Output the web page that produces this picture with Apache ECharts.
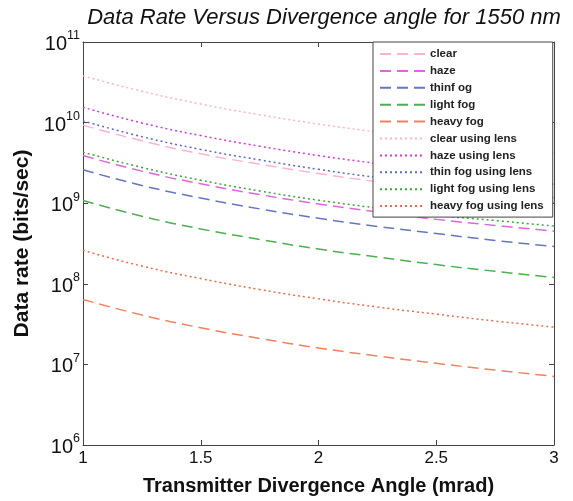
<!DOCTYPE html>
<html><head><meta charset="utf-8">
<script src="https://cdn.jsdelivr.net/npm/echarts@6/dist/echarts.min.js"></script>
<style>html,body{margin:0;padding:0;background:#fff}#c{width:573px;height:501px}</style>
</head><body><div id="c"></div>
<script>
const angles = [1, 1.25, 1.5, 1.75, 2, 2.25, 2.5, 2.75, 3];
const xTicks = [1, 1.5, 2, 2.5, 3];
const seriesNames = ['clear','haze','thinf og','light fog','heavy fog','clear using lens','haze using lens','thin fog using lens','light fog using lens','heavy fog using lens'];
const clear        = [9.3e9, 5.95e9, 4.1e9, 3.05e9, 2.33e9, 1.84e9, 1.49e9, 1.23e9, 1.03e9];
const haze         = [3.9e9, 2.5e9, 1.74e9, 1.28e9, 9.8e8, 7.8e8, 6.3e8, 5.3e8, 4.5e8];
const thinFog      = [2.6e9, 1.66e9, 1.16e9, 8.5e8, 6.5e8, 5.15e8, 4.2e8, 3.45e8, 2.9e8];
const lightFog     = [1.08e9, 6.9e8, 4.8e8, 3.55e8, 2.7e8, 2.15e8, 1.73e8, 1.43e8, 1.2e8];
const heavyFog     = [6.4e7, 4.1e7, 2.85e7, 2.1e7, 1.6e7, 1.27e7, 1.03e7, 8.5e6, 7.1e6];
const clearLens    = [3.8e10, 2.45e10, 1.7e10, 1.25e10, 9.6e9, 7.6e9, 6.1e9, 5.0e9, 4.2e9];
const hazeLens     = [1.55e10, 9.9e9, 6.9e9, 5.1e9, 3.9e9, 3.1e9, 2.5e9, 2.05e9, 1.72e9];
const thinFogLens  = [1.05e10, 6.7e9, 4.65e9, 3.45e9, 2.63e9, 2.08e9, 1.68e9, 1.39e9, 1.17e9];
const lightFogLens = [4.3e9, 2.78e9, 1.93e9, 1.42e9, 1.09e9, 8.7e8, 7.1e8, 6.1e8, 5.2e8];
const heavyFogLens = [2.6e8, 1.66e8, 1.16e8, 8.5e7, 6.5e7, 5.15e7, 4.2e7, 3.45e7, 2.9e7];

const allData = [clear, haze, thinFog, lightFog, heavyFog, clearLens, hazeLens, thinFogLens, lightFogLens, heavyFogLens];
const colors = ['#ffb3cc','#e066e0','#6676c0','#4caf50','#f5805e','#ffb3cc','#e033e0','#5a6ad0','#3aa83a','#f06a4a'];
const dashed = [11, 6], dotted = [2, 3];

const series = allData.map((d, i) => ({
  name: seriesNames[i],
  type: 'line',
  smooth: true,
  showSymbol: false,
  symbol: 'none',
  data: d.map((v, j) => [angles[j], v]),
  lineStyle: { color: colors[i], width: 1.5, type: i < 5 ? dashed : dotted },
  itemStyle: { color: colors[i] },
  z: 2
}));

const axisCol = '#444';
const chart = echarts.init(document.getElementById('c'), null, {renderer: 'canvas'});
chart.setOption({
  animation: false,
  backgroundColor: '#fff',
  title: {
    text: 'Data Rate Versus Divergence angle for 1550 nm',
    left: 319, textAlign: 'center', top: 2,
    textStyle: { fontFamily: 'Liberation Sans', fontStyle: 'italic', fontWeight: 'normal', fontSize: 22, color: '#111' }
  },
  grid: { left: 83, right: 19, top: 42, bottom: 50, containLabel: false },
  legend: {
    orient: 'vertical', left: 373, top: 42,
    padding: [6, 9, 5, 6],
    itemWidth: 45, itemHeight: 12, itemGap: 4.9,
    backgroundColor: '#fff', borderColor: '#444', borderWidth: 1, borderRadius: 0,
    itemStyle: { opacity: 0 },
    textStyle: { fontFamily: 'Liberation Sans', fontWeight: 'bold', fontSize: 11.5, color: '#222' },
    data: seriesNames,
    z: 10
  },
  xAxis: [{
    type: 'value', min: 1, max: 3, interval: 0.5, position: 'bottom',
    name: 'Transmitter Divergence Angle (mrad)', nameLocation: 'middle', nameGap: 31,
    nameTextStyle: { fontFamily: 'Liberation Sans', fontWeight: 'bold', fontSize: 20, color: '#111' },
    axisLine: { lineStyle: { color: axisCol, width: 1 } },
    axisTick: { inside: true, length: 5, lineStyle: { color: axisCol } },
    axisLabel: { fontFamily: 'Liberation Sans', fontSize: 17, color: '#111', margin: 5, formatter: v => String(v) },
    splitLine: { show: false }
  }, {
    type: 'value', min: 1, max: 3, interval: 0.5, position: 'top',
    axisLine: { lineStyle: { color: axisCol, width: 1 } },
    axisTick: { inside: true, length: 5, lineStyle: { color: axisCol } },
    axisLabel: { show: false }, splitLine: { show: false }
  }],
  yAxis: [{
    type: 'log', logBase: 10, min: 1e6, max: 1e11, position: 'left',
    name: 'Data rate (bits/sec)', nameLocation: 'middle', nameGap: 50,
    nameTextStyle: { fontFamily: 'Liberation Sans', fontWeight: 'bold', fontSize: 21, color: '#111' },
    axisLine: { show: true, lineStyle: { color: axisCol, width: 1 } },
    axisTick: { inside: true, length: 5, lineStyle: { color: axisCol } },
    minorTick: { show: false },
    axisLabel: {
      margin: 3,
      formatter: v => '{b|10}{s|' + Math.round(Math.log10(v)) + '}',
      rich: {
        b: { fontFamily: 'Liberation Sans', fontSize: 20, color: '#111', verticalAlign: 'bottom' },
        s: { fontFamily: 'Liberation Sans', fontSize: 12.5, color: '#111', verticalAlign: 'top', padding: [0, 0, 12, 0] }
      }
    },
    splitLine: { show: false }
  }, {
    type: 'log', logBase: 10, min: 1e6, max: 1e11, position: 'right',
    axisLine: { show: true, lineStyle: { color: axisCol, width: 1 } },
    axisTick: { inside: true, length: 5, lineStyle: { color: axisCol } },
    axisLabel: { show: false }, splitLine: { show: false }
  }],
  series: series
});
</script></body></html>
